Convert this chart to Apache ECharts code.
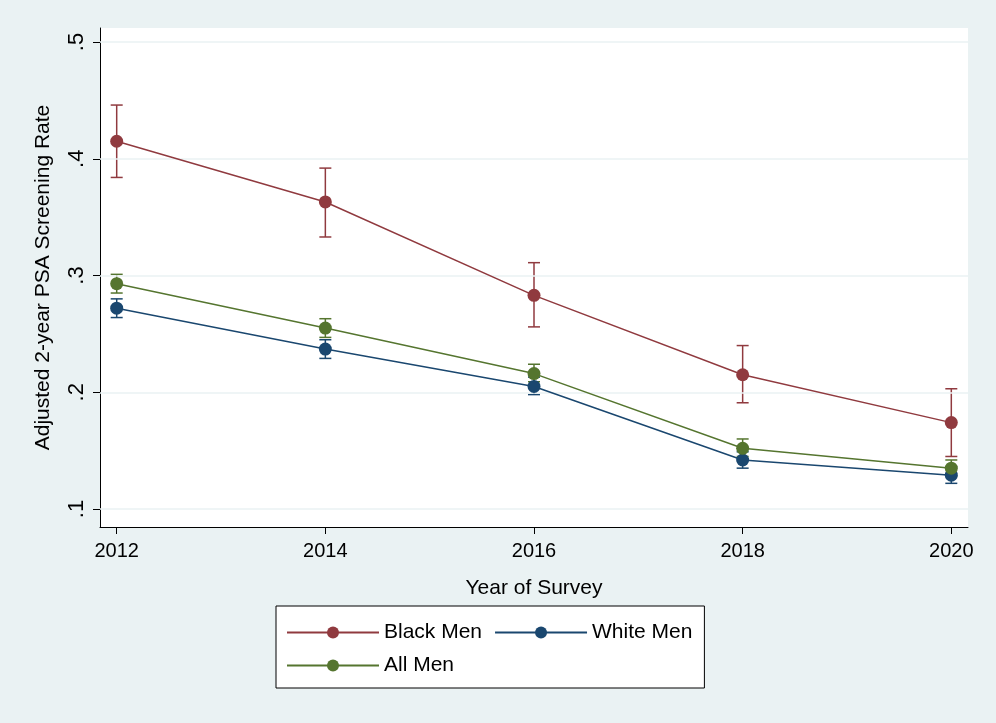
<!DOCTYPE html><html><head><meta charset="utf-8"><script src="https://cdn.jsdelivr.net/npm/echarts@6/dist/echarts.min.js"></script>
<style>body{margin:0;background:#eaf2f3}#c{width:996px;height:723px}</style></head><body><div id="c"></div><script>
const years=[2012,2014,2016,2018,2020];
const black=[0.415,0.363,0.283,0.215,0.174];
const blackLo=[0.384,0.333,0.256,0.191,0.145];
const blackHi=[0.446,0.392,0.311,0.240,0.203];
const white=[0.272,0.237,0.205,0.142,0.129];
const whiteLo=[0.264,0.229,0.198,0.135,0.122];
const whiteHi=[0.280,0.245,0.213,0.149,0.136];
const all=[0.293,0.255,0.216,0.152,0.135];
const allLo=[0.285,0.247,0.209,0.145,0.128];
const allHi=[0.301,0.263,0.224,0.160,0.142];
const yTicks=[0.1,0.2,0.3,0.4,0.5];
const yLabels=['.1','.2','.3','.4','.5'];
const F='Liberation Sans';
function line(name,vals,color){return{name,type:'line',data:years.map((y,i)=>[y,vals[i]]),symbol:'circle',symbolSize:13,lineStyle:{color,width:1.5},itemStyle:{color},z:5};}
function err(lo,hi,color){return{type:'custom',silent:true,data:years.map((y,i)=>[y,lo[i],hi[i]]),renderItem:(p,api)=>{const a=api.coord([api.value(0),api.value(1)]),b=api.coord([api.value(0),api.value(2)]);const w=6;const s={stroke:color,lineWidth:1.5};return{type:'group',children:[{type:'line',shape:{x1:a[0],y1:a[1],x2:b[0],y2:b[1]},style:s},{type:'line',shape:{x1:a[0]-w,y1:a[1],x2:a[0]+w,y2:a[1]},style:s},{type:'line',shape:{x1:b[0]-w,y1:b[1],x2:b[0]+w,y2:b[1]},style:s}]};},z:4};}
const c=echarts.init(document.getElementById('c'));
c.setOption({backgroundColor:'#eaf2f3',animation:false,
graphic:[{type:'rect',shape:{x:100,y:28,width:868,height:499},style:{fill:'#fff'},z:-10}],
grid:{left:100,right:28,top:28,bottom:196},
xAxis:{type:'value',min:2011.84,max:2020.16,name:'Year of Survey',nameLocation:'middle',nameGap:51,nameTextStyle:{fontFamily:F,fontSize:21,color:'#000'},
axisLine:{lineStyle:{color:'#000'}},axisTick:{length:7,lineStyle:{color:'#000'},customValues:years},splitLine:{show:false},
axisLabel:{fontFamily:F,fontSize:20,color:'#000',margin:14,customValues:years,formatter:v=>String(v)}},
yAxis:{type:'value',min:0.0846,max:0.512,name:'Adjusted 2-year PSA Screening Rate',nameLocation:'middle',nameGap:46,nameTextStyle:{fontFamily:F,fontSize:21,color:'#000'},
axisLine:{show:true,lineStyle:{color:'#000'}},axisTick:{show:true,length:7,lineStyle:{color:'#000'},customValues:yTicks},
splitLine:{show:false},axisLabel:{fontFamily:F,fontSize:22,color:'#000',rotate:90,margin:12,customValues:yTicks,formatter:v=>yLabels[Math.round(v*10)-1]}},
legend:{data:['Black Men','White Men','All Men'],left:276,top:606,width:500,padding:[16,12,12,10],itemGap:12,orient:'horizontal',borderColor:'#000',borderWidth:1,backgroundColor:'#fff',itemWidth:92,itemHeight:15,textStyle:{fontFamily:F,fontSize:21,color:'#000',width:140}},
series:[
{type:'line',data:[],markLine:{silent:true,symbol:'none',label:{show:false},lineStyle:{color:'#eaf2f3',type:'solid',width:1.5},data:yTicks.map(v=>({yAxis:v}))},z:1},
err(blackLo,blackHi,'#903a3f'),err(whiteLo,whiteHi,'#1a476f'),err(allLo,allHi,'#55752f'),
line('Black Men',black,'#903a3f'),line('White Men',white,'#1a476f'),line('All Men',all,'#55752f')]});
</script></body></html>
